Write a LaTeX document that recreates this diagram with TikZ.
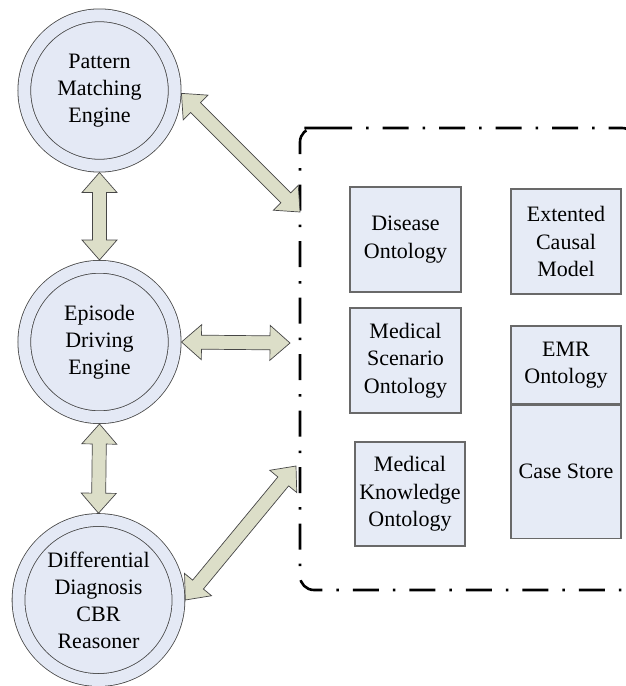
\documentclass[tikz,border=0pt]{standalone}
\usepackage{fontspec}
\setmainfont{Liberation Serif}
\usetikzlibrary{calc}

\definecolor{enginefill}{RGB}{228,233,245}
\definecolor{boxfill}{RGB}{230,235,246}
\definecolor{arrowfill}{RGB}{220,222,200}
\definecolor{edgegray}{RGB}{70,70,70}
\definecolor{boxgray}{RGB}{105,105,105}

\tikzset{
  engine/.style={circle, draw=edgegray, line width=0.8pt, fill=enginefill,
    double=enginefill, double distance=12pt, minimum size=150.4pt,
    outer sep=6.8pt, inner sep=0pt, align=center,
    font=\fontsize{22}{27}\selectfont},
  store/.style={rectangle, draw=boxgray, line width=1.2pt, fill=boxfill,
    minimum width=111pt, minimum height=105pt, inner sep=0pt, align=center,
    font=\fontsize{22}{27.5}\selectfont},
  kbframe/.style={line width=2.6pt, rounded corners=14pt,
    dash pattern=on 26pt off 14pt on 2.5pt off 14pt},
  fat/.style={draw=edgegray, line width=0.7pt, fill=arrowfill, line join=miter},
}

% fat double-headed arrow from #1 to #2
\newcommand\fatarrow[2]{%
  \filldraw[fat] (#1)
    -- ($(#1)!20pt!(#2)!17.5pt!90:(#2)$) -- ($(#1)!20pt!(#2)!7pt!90:(#2)$)
    -- ($(#2)!20pt!(#1)!7pt!-90:(#1)$) -- ($(#2)!20pt!(#1)!17.5pt!-90:(#1)$)
    -- (#2)
    -- ($(#2)!20pt!(#1)!17.5pt!90:(#1)$) -- ($(#2)!20pt!(#1)!7pt!90:(#1)$)
    -- ($(#1)!20pt!(#2)!7pt!-90:(#2)$) -- ($(#1)!20pt!(#2)!17.5pt!-90:(#2)$)
    -- cycle;}

\begin{document}
\begin{tikzpicture}[x=1pt, y=-1pt]
  \useasboundingbox (0,0) rectangle (626,686);
  \clip (0,0) rectangle (626,686);

  % engines
  \node[engine] (pme) at (99.5,90.5) {Pattern\\Matching\\Engine};
  \node[engine] (ede) at (99.5,342) {Episode\\Driving\\Engine};
  \node[engine, minimum size=160pt] (cbr) at (98.5,600) {Differential\\Diagnosis\\CBR\\Reasoner};

  % knowledge base frame
  \draw[kbframe] (312,128) -- (636,128) -- (636,590) -- (300,590) -- (300,128) -- cycle;
  \coordinate (kbtop) at (300,212);
  \coordinate (kbmid) at (290,343);
  \coordinate (kbbot) at (296,466);

  % stores
  \node[store] (disease) at (405.5,239.5) {Disease\\Ontology};
  \node[store, minimum width=110pt] (causal) at (566,241.5) {Extented\\Causal\\Model};
  \node[store] (scenario) at (405.5,360.5) {Medical\\Scenario\\Ontology};
  \node[store, minimum width=110pt, minimum height=78pt] (emr) at (566,365) {EMR\\Ontology};
  \node[store, minimum width=110pt, minimum height=133pt, anchor=north] (cases) at (emr.south) {Case Store};
  \node[store, minimum width=110pt, minimum height=104pt] (knowledge) at (410,494) {Medical\\Knowledge\\Ontology};

  % links
  \fatarrow{pme.south}{ede.north}
  \fatarrow{ede.south}{cbr.north}
  \fatarrow{pme.-2}{kbtop}
  \fatarrow{ede.east}{kbmid}
  \fatarrow{cbr.east}{kbbot}
\end{tikzpicture}
\end{document}
